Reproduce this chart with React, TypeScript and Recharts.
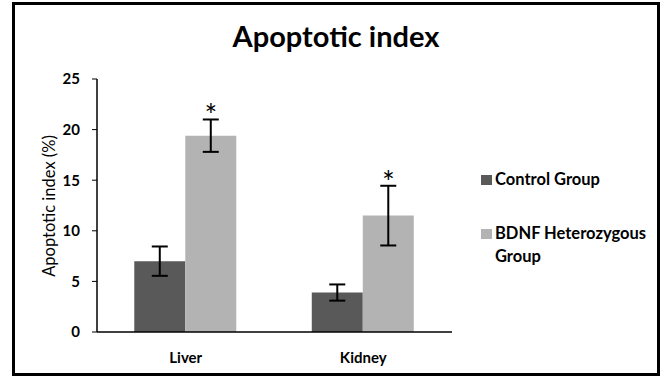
import React from 'react';
import { BarChart, Bar, XAxis, YAxis, ErrorBar, LabelList } from 'recharts';

const organs = ['Liver', 'Kidney'];
const controlValues = [7.0, 3.9];
const controlErrors = [1.45, 0.8];
const bdnfValues = [19.4, 11.5];
const bdnfErrors = [1.6, 2.95];
const yTicks = [0, 5, 10, 15, 20, 25];

const data = organs.map((name, i) => ({
  name,
  control: controlValues[i],
  controlErr: controlErrors[i],
  bdnf: bdnfValues[i],
  bdnfErr: bdnfErrors[i],
}));

const FONT = 'Lato, "Open Sans", sans-serif';
const DARK = '#595959';
const LIGHT = '#b3b3b3';

const Star = (props: any) => {
  const { x, y, width, height, value, index } = props;
  const perUnit = height / value;
  const top = y - bdnfErrors[index] * perUnit;
  return (
    <text x={x + width / 2} y={top + 7} textAnchor="middle" fontFamily={FONT} fontSize={30} fill="#000">
      *
    </text>
  );
};

const YLabel = () => (
  <text
    x={49}
    y={206}
    transform="rotate(-90, 49, 206)"
    textAnchor="middle"
    dominantBaseline="central"
    fontFamily={FONT}
    fontSize={16.5}
    fill="#000"
  >
    Apoptotic index (%)
  </text>
);

// legend drawn beside the plot, like the original figure
const LegendBox = () => (
  <div style={{ fontFamily: FONT, fontSize: 16.5, fontWeight: 700, color: '#000', lineHeight: '23px' }}>
    <div style={{ display: 'flex', alignItems: 'flex-start' }}>
      <span style={{ width: 11, height: 10, background: DARK, marginTop: 7, marginRight: 3, flex: 'none' }} />
      <span>Control Group</span>
    </div>
    <div style={{ display: 'flex', alignItems: 'flex-start', marginTop: 31 }}>
      <span style={{ width: 11, height: 10, background: LIGHT, marginTop: 7, marginRight: 3, flex: 'none' }} />
      <span style={{ width: 165 }}>BDNF Heterozygous Group</span>
    </div>
  </div>
);

export default function App() {
  return (
    <div style={{ position: 'absolute', left: 0, top: 0, width: 663, height: 378, background: '#fff' }}>
      <div
        style={{
          position: 'absolute',
          left: 12,
          top: 2,
          width: 648,
          height: 374,
          border: '3px solid #000',
          boxSizing: 'border-box',
        }}
      />
      <div
        style={{
          position: 'absolute',
          left: 0,
          top: 18,
          width: 672,
          textAlign: 'center',
          fontFamily: FONT,
          fontSize: 29,
          fontWeight: 700,
          lineHeight: '36px',
          color: '#000',
        }}
      >
        Apoptotic index
      </div>
      <div style={{ position: 'absolute', left: 0, top: 0 }}>
        <BarChart
          width={663}
          height={378}
          data={data}
          margin={{ top: 79, right: 211, left: 0, bottom: 0 }}
          barCategoryGap="21%"
          barGap={0}
        >
          <XAxis
            dataKey="name"
            height={46}
            tickLine={false}
            tickSize={0}
            tickMargin={20}
            axisLine={{ stroke: '#000', strokeWidth: 1.5 }}
            tick={{ fontFamily: FONT, fontSize: 15, fontWeight: 700, fill: '#000' }}
          />
          <YAxis
            width={97}
            domain={[0, 25]}
            ticks={yTicks}
            interval={0}
            tickSize={5}
            tickMargin={12}
            axisLine={{ stroke: '#000', strokeWidth: 1.5 }}
            tickLine={{ stroke: '#000' }}
            tick={{ fontFamily: FONT, fontSize: 15, fontWeight: 700, fill: '#000' }}
            label={<YLabel />}
          />
          <Bar dataKey="control" name="Control Group" fill={DARK} isAnimationActive={false}>
            <ErrorBar dataKey="controlErr" width={8} stroke="#000" strokeWidth={2} direction="y" />
          </Bar>
          <Bar dataKey="bdnf" name="BDNF Heterozygous Group" fill={LIGHT} isAnimationActive={false}>
            <ErrorBar dataKey="bdnfErr" width={8} stroke="#000" strokeWidth={2} direction="y" />
            <LabelList dataKey="bdnf" content={<Star />} />
          </Bar>
        </BarChart>
      </div>
      <div style={{ position: 'absolute', left: 481, top: 168 }}>
        <LegendBox />
      </div>
    </div>
  );
}
